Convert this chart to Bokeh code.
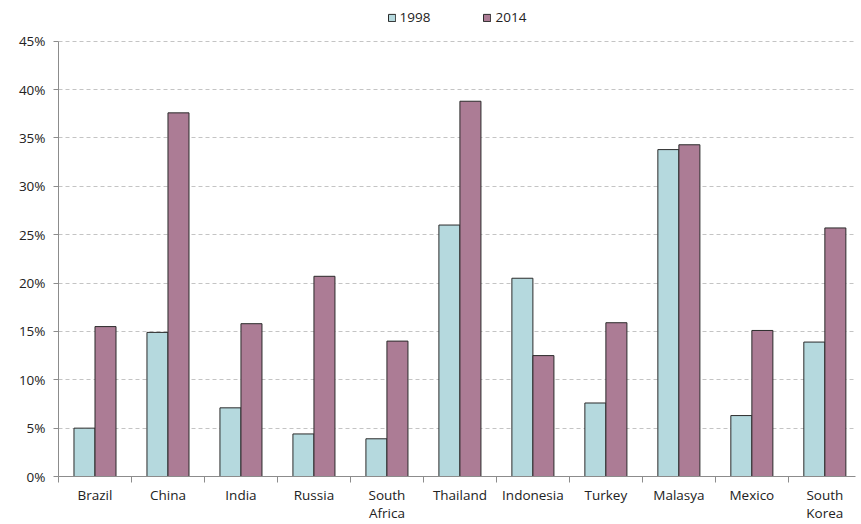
from bokeh.plotting import figure
from bokeh.models import (ColumnDataSource, Range1d, FixedTicker, PrintfTickFormatter,
                          Legend, LegendItem)
from bokeh.transform import dodge
from bokeh.embed import file_html
from bokeh.resources import INLINE

countries = ["Brazil", "China", "India", "Russia", "South Africa", "Thailand",
             "Indonesia", "Turkey", "Malasya", "Mexico", "South Korea"]
tick_labels = ["Brazil", "China", "India", "Russia", "South\nAfrica", "Thailand",
               "Indonesia", "Turkey", "Malasya", "Mexico", "South\nKorea"]
share_1998 = [5.0, 14.9, 7.1, 4.4, 3.9, 26.0, 20.5, 7.6, 33.8, 6.3, 13.9]
share_2014 = [15.5, 37.6, 15.8, 20.7, 14.0, 38.8, 12.5, 15.9, 34.3, 15.1, 25.7]
y_ticks = [0, 5, 10, 15, 20, 25, 30, 35, 40, 45]

FONT = "Open Sans"
FSIZE = "13.5px"
idx = list(range(len(countries)))
src = ColumnDataSource(dict(x=idx, a=share_1998, b=share_2014))

# headroom above 45% holds the legend; the axis line stops at 45%
p = figure(width=861, height=524, output_backend="svg", toolbar_location=None,
           x_range=Range1d(-0.5, len(countries) - 0.58), y_range=Range1d(0, 48.7),
           min_border_left=58, min_border_right=6, min_border_top=5, min_border_bottom=0)
p.outline_line_color = None
p.background_fill_color = "white"

bw = 0.288
r1 = p.vbar(x=dodge("x", -bw / 2, range=p.x_range), top="a", width=bw, source=src,
            fill_color="#b5d9de", line_color="#2b2b2b", line_width=1)
r2 = p.vbar(x=dodge("x", bw / 2, range=p.x_range), top="b", width=bw, source=src,
            fill_color="#ac7c95", line_color="#2b2b2b", line_width=1)

# x axis: labels at category centres, tick marks between categories
p.xaxis.ticker = FixedTicker(ticks=idx, minor_ticks=[i - 0.5 for i in idx] + [len(idx) - 0.5])
p.xaxis.major_label_overrides = {i: lab for i, lab in enumerate(tick_labels)}
p.xaxis.major_tick_line_color = None
p.xaxis.major_tick_out = 0
p.xaxis.major_tick_in = 0
p.xaxis.minor_tick_line_color = "#8c8c8c"
p.xaxis.minor_tick_out = 6
p.xaxis.minor_tick_in = 0
p.xaxis.axis_line_color = "#8c8c8c"
p.xaxis.major_label_standoff = 3
p.xaxis.major_label_text_line_height = 1.0
p.xgrid.grid_line_color = None

p.yaxis.ticker = FixedTicker(ticks=y_ticks)
p.yaxis.bounds = (0, 45)
p.yaxis.formatter = PrintfTickFormatter(format="%d%%")
p.yaxis.axis_line_color = "#8c8c8c"
p.yaxis.major_tick_line_color = "#8c8c8c"
p.yaxis.major_tick_out = 5
p.yaxis.major_tick_in = 0
p.yaxis.minor_tick_line_color = None
p.yaxis.major_label_standoff = 8
p.ygrid.grid_line_color = "#c4c4c4"
p.ygrid.grid_line_dash = "4 3"

for ax in (p.xaxis, p.yaxis):
    ax.major_label_text_font = FONT
    ax.major_label_text_font_size = FSIZE
    ax.major_label_text_color = "#222222"

legend = Legend(items=[LegendItem(label="1998", renderers=[r1]),
                       LegendItem(label="2014", renderers=[r2])],
                orientation="horizontal", location="top_center",
                glyph_width=9, glyph_height=9, spacing=52, label_standoff=4,
                label_text_font=FONT, label_text_font_size=FSIZE,
                label_text_color="#222222", border_line_color=None,
                background_fill_alpha=0, padding=2, margin=3)
p.add_layout(legend, "center")

open("out.html", "w").write(file_html(p, INLINE))
